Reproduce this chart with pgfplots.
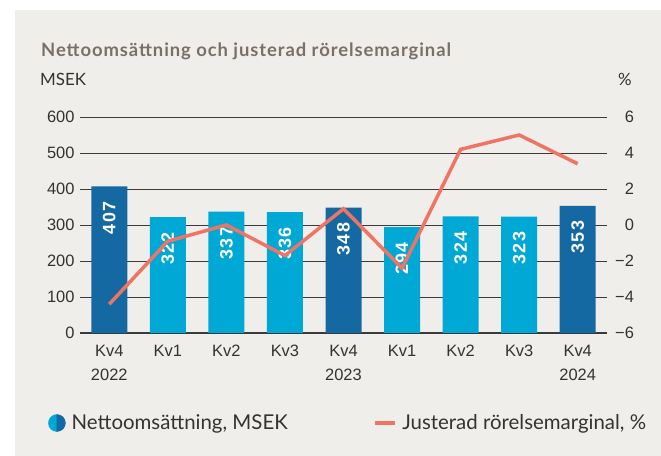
\documentclass[border=0pt]{standalone}
\usepackage{fontspec}
\usepackage{pgfplots}
\pgfplotsset{compat=1.18}
\setmainfont{Lato}
\newfontfamily\titlefont[LetterSpace=5]{Lato}
\newfontfamily\tickfont{Liberation Sans}
\newfontfamily\barfont[LetterSpace=8]{Liberation Sans}

\definecolor{bgc}{HTML}{EFEEEA}
\definecolor{darkc}{HTML}{1569A2}
\definecolor{lightc}{HTML}{00A8D6}
\definecolor{linec}{HTML}{F07464}
\definecolor{gridc}{HTML}{3A3A3A}
\definecolor{titlec}{HTML}{7B6F69}
\definecolor{textc}{HTML}{333333}

\begin{document}
\begin{tikzpicture}[x=1bp,y=1bp]
\fill[white] (0,0) rectangle (661,456);
\fill[bgc] (15,0) rectangle (661,446);

\node[anchor=base west, inner sep=0, text=titlec,
  font=\titlefont\fontsize{18.5}{20}\selectfont\bfseries] at (41,399.5)
  {Nettoomsättning och justerad rörelsemarginal};
\node[anchor=base west, inner sep=0, text=textc,
  font=\fontsize{17}{18}\selectfont] at (40,370) {MSEK};
\node[anchor=base east, inner sep=0, text=textc,
  font=\fontsize{17}{18}\selectfont] at (632,370) {\%};

% nettoomsättning, MSEK
\begin{axis}[
  at={(80bp,123bp)}, anchor=south west,
  scale only axis, width=527bp, height=216bp,
  xmin=-0.5, xmax=8.5, ymin=0, ymax=600,
  xtick={0,...,8},
  xticklabels={Kv4\\2022,Kv1,Kv2,Kv3,Kv4\\2023,Kv1,Kv2,Kv3,Kv4\\2024},
  ytick={0,100,...,600},
  ymajorgrids, grid style={gridc, line width=0.9bp},
  axis x line=bottom, axis y line=left,
  x axis line style={-, draw=gridc, line width=2.2bp},
  y axis line style={draw=none},
  major tick length=0pt,
  ticklabel style={font=\tickfont\fontsize{16.5}{23.5}\selectfont, text=textc},
  xticklabel style={align=center, yshift=-9bp},
  yticklabel style={xshift=-2bp},
  /pgf/number format/assume math mode=true,
  point meta=y,
  nodes near coords={\pgfmathprintnumber[fixed,precision=0,1000 sep={}]{\pgfplotspointmeta}},
]
\addplot[ybar, bar width=36bp, bar shift=0pt, fill=lightc, draw=none,
  every node near coord/.append style={rotate=90, anchor=east, inner sep=0pt,
    outer xsep=15bp, outer ysep=0pt, text=white,
    font=\barfont\bfseries\fontsize{18}{18}\selectfont}]
  coordinates {(1,322) (2,337) (3,336) (5,294) (6,324) (7,323)};
\addplot[ybar, bar width=36bp, bar shift=0pt, fill=darkc, draw=none,
  every node near coord/.append style={rotate=90, anchor=east, inner sep=0pt,
    outer xsep=15bp, outer ysep=0pt, text=white,
    font=\barfont\bfseries\fontsize{18}{18}\selectfont}]
  coordinates {(0,407) (4,348) (8,353)};
\end{axis}

% justerad rörelsemarginal, %
\begin{axis}[
  at={(80bp,123bp)}, anchor=south west,
  scale only axis, width=527bp, height=216bp,
  xmin=-0.5, xmax=8.5, ymin=-6, ymax=6,
  axis x line=none, axis y line*=right,
  y axis line style={draw=none},
  ytick={-6,-4,...,6},
  yticklabels={−6,−4,−2,0,2,4,6},
  major tick length=0pt,
  yticklabel style={font=\tickfont\fontsize{16.5}{20}\selectfont, text=textc,
    anchor=east, xshift=30.5bp},
  legend columns=2,
  legend style={at={(-0.0607,-0.4167)}, anchor=west, draw=none, fill=none,
    inner sep=0pt, font=\fontsize{20.5}{22}\selectfont, text=textc,
    /tikz/every odd column/.append style={column sep=4bp},
    /tikz/every even column/.append style={column sep=83bp}},
  legend cell align=left,
]
\addlegendimage{legend image code/.code={
  \fill[lightc] (8.5bp,8.5bp) arc[start angle=90,end angle=270,radius=8.5bp] -- cycle;
  \fill[darkc] (8.5bp,-8.5bp) arc[start angle=-90,end angle=90,radius=8.5bp] -- cycle;}}
\addlegendentry{Nettoomsättning, MSEK}
\addplot[linec, line width=3.5bp,
  legend image code/.code={\draw[linec, line width=3.5bp] (0bp,0bp) -- (20bp,0bp);}]
  coordinates {(0,-4.4) (1,-0.9) (2,0.0) (3,-1.7) (4,0.9) (5,-2.4) (6,4.2) (7,5.0) (8,3.4)};
\addlegendentry{Justerad rörelsemarginal, \%}
\end{axis}
\pgfresetboundingbox
\useasboundingbox (0,0) rectangle (661,456);
\end{tikzpicture}
\end{document}
